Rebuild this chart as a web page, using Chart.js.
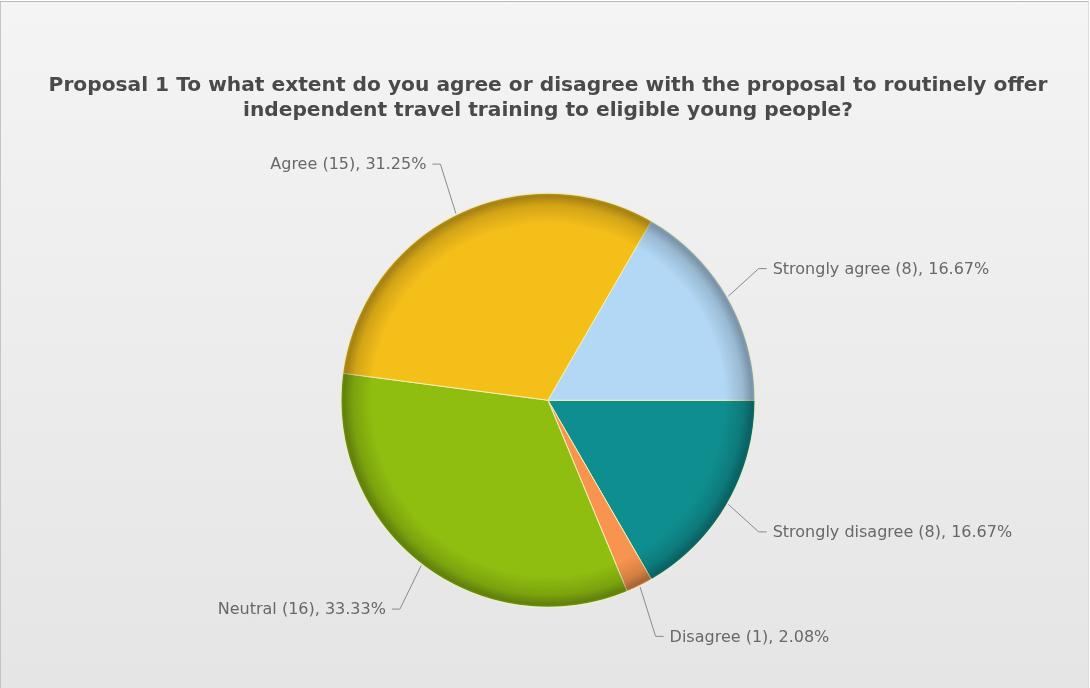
<!DOCTYPE html>
<html>
<head>
<meta charset="utf-8">
<script src="https://cdn.jsdelivr.net/npm/chart.js@4"></script>
<style>
    html, body { margin: 0; padding: 0; }
    body {
        width: 1090px;
        height: 688px;
        overflow: hidden;
    }
    .marco {
        position: relative;
        width: 1087px;
        height: 686px;
        margin-top: 1px;
        border-top: 1px solid #b9b9b9;
        border-left: 1px solid #c4c4c4;
        border-right: 1px solid #dedede;
        background: linear-gradient(#f4f4f4, #e5e5e5);
    }
    canvas { display: block; }
</style>
</head>
<body>
<div class="marco">
    <canvas id="grafica" width="1087" height="686"></canvas>
</div>
<script>
// respuestas, en el orden en que se dibujan (sentido horario desde las 3)
const categorias = ["Strongly disagree", "Disagree", "Neutral", "Agree", "Strongly agree"];
const respuestas = [8, 1, 16, 15, 8];
const colores = ["#0f8e8f", "#f8944f", "#8fbd10", "#f5bf1a", "#b3d8f5"];
const titulo = [
    "Proposal 1 To what extent do you agree or disagree with the proposal to routinely offer",
    "independent travel training to eligible young people?"
];

const total = respuestas.reduce((a, b) => a + b, 0);

function textoEtiqueta(i) {
    const pct = (respuestas[i] / total * 100).toFixed(2);
    return `${categorias[i]} (${respuestas[i]}), ${pct}%`;
}

// sombreado del borde de la torta (efecto de relieve)
const relieve = {
    id: "relieve",
    afterDatasetsDraw(chart) {
        const arcos = chart.getDatasetMeta(0).data;
        if (!arcos.length) return;
        const { x, y, outerRadius } = arcos[0].getProps(["x", "y", "outerRadius"], true);
        const ctx = chart.ctx;
        ctx.save();
        ctx.beginPath();
        ctx.arc(x, y, outerRadius, 0, Math.PI * 2);
        ctx.clip();
        const g = ctx.createRadialGradient(x, y, 0, x, y, outerRadius);
        g.addColorStop(0, "rgba(0,0,0,0)");
        g.addColorStop(0.85, "rgba(0,0,0,0)");
        g.addColorStop(0.94, "rgba(0,0,0,0.14)");
        g.addColorStop(0.985, "rgba(0,0,0,0.32)");
        g.addColorStop(1, "rgba(0,0,0,0.2)");
        ctx.fillStyle = g;
        ctx.fillRect(x - outerRadius, y - outerRadius, outerRadius * 2, outerRadius * 2);
        ctx.restore();
        // aro claro exterior
        ctx.save();
        ctx.beginPath();
        ctx.arc(x, y, outerRadius, 0, Math.PI * 2);
        ctx.strokeStyle = "rgba(235,240,215,0.9)";
        ctx.lineWidth = 1.5;
        ctx.stroke();
        ctx.restore();
    }
};

// etiquetas externas con linea guia
const etiquetas = {
    id: "etiquetas",
    afterDatasetsDraw(chart) {
        const ctx = chart.ctx;
        const arcos = chart.getDatasetMeta(0).data;
        ctx.save();
        ctx.font = "16px 'DejaVu Sans'";
        ctx.fillStyle = "#686868";
        ctx.strokeStyle = "#8a8a8a";
        ctx.lineWidth = 1;
        ctx.textBaseline = "middle";
        arcos.forEach((arco, i) => {
            const p = arco.getProps(["x", "y", "startAngle", "endAngle", "outerRadius"], true);
            const medio = (p.startAngle + p.endAngle) / 2;
            const cx = Math.cos(medio), cy = Math.sin(medio);
            const x0 = p.x + cx * (p.outerRadius + 1);
            const y0 = p.y + cy * (p.outerRadius + 1);
            const x1 = p.x + cx * (p.outerRadius + 36);
            const y1 = p.y + cy * (p.outerRadius + 56);
            const lado = cx >= 0 ? 1 : -1;
            const x2 = x1 + lado * 8;
            ctx.beginPath();
            ctx.moveTo(x0, y0);
            ctx.lineTo(x1, y1);
            ctx.lineTo(x2, y1);
            ctx.stroke();
            ctx.textAlign = lado > 0 ? "left" : "right";
            ctx.fillText(textoEtiqueta(i), x2 + lado * 6, y1 + 1);
        });
        ctx.restore();
    }
};

new Chart(document.getElementById("grafica"), {
    type: "pie",
    data: {
        labels: categorias,
        datasets: [{
            data: respuestas,
            backgroundColor: colores,
            borderColor: "#f2f0b0",
            borderWidth: 1
        }]
    },
    options: {
        responsive: false,
        animation: false,
        rotation: 90,
        layout: { padding: { left: 7, right: 0, top: 0, bottom: 80 } },
        plugins: {
            legend: { display: false },
            tooltip: { enabled: false },
            title: {
                display: true,
                text: titulo,
                color: "#4a4a4a",
                font: { family: "'DejaVu Sans'", size: 20.2, weight: "bold", lineHeight: 1.2 },
                padding: { top: 72, bottom: 70 }
            }
        }
    },
    plugins: [relieve, etiquetas]
});
</script>
</body>
</html>
